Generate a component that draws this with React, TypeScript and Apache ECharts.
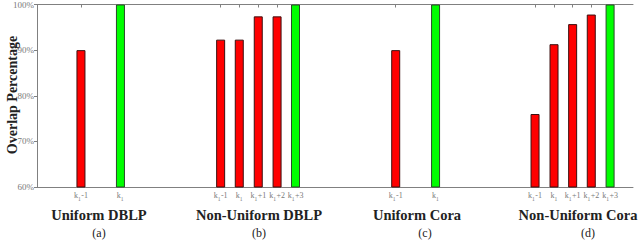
import React, { useEffect, useRef } from "react";
import * as echarts from "echarts";

const xPositions = [2.36, 4.48, 9.86, 10.86, 11.88, 12.89, 13.88, 19.26, 21.4, 26.74, 27.76, 28.76, 29.76, 30.77];
const tickLabels = ["k1-1", "k1", "k1-1", "k1", "k1+1", "k1+2", "k1+3", "k1-1", "k1", "k1-1", "k1", "k1+1", "k1+2", "k1+3"];
const overlapValues = [90.0, 100, 92.3, 92.3, 97.4, 97.4, 100, 90.0, 100, 76.0, 91.3, 95.7, 97.8, 100];
const isBest = [false, true, false, false, false, false, true, false, true, false, false, false, false, true];
const groupTitles = ["Uniform DBLP", "Non-Uniform DBLP", "Uniform Cora", "Non-Uniform Cora"];
const groupLetters = ["(a)", "(b)", "(c)", "(d)"];
const groupTitleX = [99, 259, 417, 578];
const groupLetterX = [99, 259, 425, 588];

const SERIF = "'Liberation Serif', 'Times New Roman', serif";

function richLabel(s: string) {
  const rest = s.slice(2);
  return "{k|k}{s|1}" + (rest ? "{k|" + rest + "}" : "");
}

export default function App() {
  const ref = useRef<HTMLDivElement>(null);
  useEffect(() => {
    if (!ref.current) return;
    const chart = echarts.init(ref.current, null, { renderer: "svg" });
    const axisColor = "#808080";
    const labelColor = "#7a7a7a";
    const option: any = {
      animation: false,
      backgroundColor: "#ffffff",
      textStyle: { fontFamily: SERIF },
      grid: { left: 37, right: 7, top: 4, bottom: 53, containLabel: false },
      xAxis: [
        {
          type: "value",
          position: "bottom",
          min: 0,
          max: 32,
          splitLine: { show: false },
          axisLine: { show: true, lineStyle: { color: axisColor, width: 1 } },
          axisTick: { show: false },
          axisLabel: {
            show: true,
            customValues: xPositions,
            margin: 4,
            hideOverlap: false,
            formatter: (v: number) => {
              const i = xPositions.findIndex((p) => Math.abs(p - v) < 1e-6);
              return i >= 0 ? richLabel(tickLabels[i]) : "";
            },
            rich: {
              k: { fontFamily: SERIF, fontSize: 8, color: labelColor, lineHeight: 11, verticalAlign: "top" },
              s: { fontFamily: SERIF, fontSize: 5.5, color: labelColor, lineHeight: 11, padding: [5, 0.5, 0, 0], verticalAlign: "top" },
            },
          },
        },
        {
          type: "value",
          position: "top",
          min: 0,
          max: 32,
          splitLine: { show: false },
          axisLine: { show: true, lineStyle: { color: axisColor, width: 1 } },
          axisTick: { show: true, inside: true, length: 3, customValues: xPositions, lineStyle: { color: axisColor } },
          axisLabel: { show: false },
        },
      ],
      yAxis: [
        {
          type: "value",
          position: "left",
          min: 60,
          max: 100,
          interval: 10,
          splitLine: { show: false },
          axisLine: { show: true, lineStyle: { color: axisColor, width: 1 } },
          axisTick: { show: false },
          axisLabel: {
            formatter: "{value}%",
            fontFamily: SERIF,
            fontSize: 9,
            color: labelColor,
            margin: 3,
          },
        },
        {
          type: "value",
          position: "right",
          min: 60,
          max: 100,
          interval: 10,
          splitLine: { show: false },
          axisLine: { show: true, lineStyle: { color: axisColor, width: 1 } },
          axisTick: { show: true, inside: true, length: 3, lineStyle: { color: axisColor } },
          axisLabel: { show: false },
        },
      ],
      series: [
        {
          type: "bar",
          xAxisIndex: 0,
          yAxisIndex: 0,
          barWidth: 9,
          clip: true,
          data: xPositions.map((x, i) => ({
            value: [x, overlapValues[i]],
            itemStyle: {
              color: isBest[i] ? "#00ff00" : "#ff0000",
              borderColor: isBest[i] ? "#2a4a2a" : "#3a1010",
              borderWidth: 1,
            },
          })),
        },
      ],
      graphic: [
        {
          type: "text",
          x: 12,
          y: 95,
          rotation: Math.PI / 2,
          style: {
            text: "Overlap Percentage",
            fontFamily: SERIF,
            fontWeight: "bold",
            fontSize: 14,
            fill: "#222",
            align: "center",
            verticalAlign: "middle",
          },
        },
        ...groupTitles.map((t, i) => ({
          type: "text",
          x: groupTitleX[i],
          y: 215,
          style: {
            text: t,
            fontFamily: SERIF,
            fontWeight: "bold",
            fontSize: 14.5,
            fill: "#222",
            align: "center",
            verticalAlign: "middle",
          },
        })),
        ...groupLetters.map((t, i) => ({
          type: "text",
          x: groupLetterX[i],
          y: 233,
          style: {
            text: t,
            fontFamily: SERIF,
            fontSize: 12,
            fill: "#222",
            align: "center",
            verticalAlign: "middle",
          },
        })),
      ],
    };
    chart.setOption(option);
    return () => chart.dispose();
  }, []);
  return (
    <div
      ref={ref}
      style={{ position: "absolute", left: 0, top: 0, width: 640, height: 240 }}
    />
  );
}
